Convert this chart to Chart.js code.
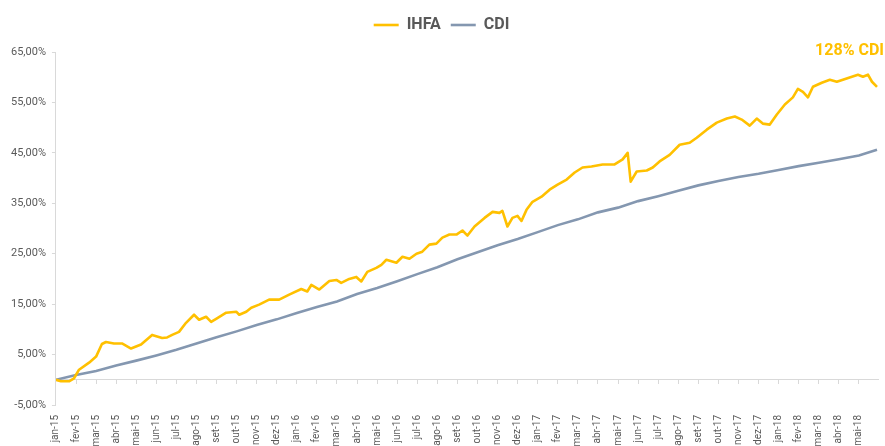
<!DOCTYPE html>
<html>
<head>
<meta charset="utf-8">
<script src="https://cdn.jsdelivr.net/npm/chart.js@4.4.0/dist/chart.umd.min.js"></script>
<style>
    html, body { margin: 0; padding: 0; background: #ffffff; }
    #wrap { width: 885px; height: 446px; }
</style>
</head>
<body>
<div id="wrap"><canvas id="chart"></canvas></div>
<script>
// Month labels (x axis), one per month from jan-15
const monthLabels = [
    'jan-15', 'fev-15', 'mar-15', 'abr-15', 'mai-15', 'jun-15', 'jul-15', 'ago-15', 'set-15', 'out-15', 'nov-15', 'dez-15',
    'jan-16', 'fev-16', 'mar-16', 'abr-16', 'mai-16', 'jun-16', 'jul-16', 'ago-16', 'set-16', 'out-16', 'nov-16', 'dez-16',
    'jan-17', 'fev-17', 'mar-17', 'abr-17', 'mai-17', 'jun-17', 'jul-17', 'ago-17', 'set-17', 'out-17', 'nov-17', 'dez-17',
    'jan-18', 'fev-18', 'mar-18', 'abr-18', 'mai-18'
];

// IHFA: months elapsed since jan-15, and accumulated return (%)
const ihfaMonth = [
    0.00, 0.25, 0.65, 0.90, 1.15, 1.65, 2.00, 2.29, 2.49, 2.89, 3.29, 3.74, 3.99, 4.24, 4.79,
    5.29, 5.54, 5.79, 6.13, 6.48, 6.88, 7.13, 7.48, 7.73, 7.98, 8.48, 8.98, 9.13, 9.48, 9.73,
    10.12, 10.62, 11.12, 11.62, 12.22, 12.52, 12.72, 13.12, 13.62, 13.97, 14.21, 14.61, 14.96, 15.21, 15.51,
    15.96, 16.21, 16.46, 16.96, 17.26, 17.61, 17.96, 18.25, 18.60, 18.95, 19.25, 19.60, 19.95, 20.25, 20.50,
    20.85, 21.35, 21.75, 22.09, 22.24, 22.49, 22.74, 22.99, 23.19, 23.44, 23.74, 24.19, 24.59, 24.99, 25.44,
    25.84, 26.23, 26.68, 27.23, 27.83, 28.23, 28.48, 28.63, 28.93, 29.43, 29.73, 30.07, 30.57, 31.07, 31.57,
    31.92, 32.42, 32.92, 33.42, 33.82, 34.16, 34.56, 34.91, 35.21, 35.56, 35.91, 36.31, 36.71, 36.96, 37.21,
    37.46, 37.71, 38.15, 38.55, 38.90, 39.20, 39.65, 39.95, 40.20, 40.45, 40.65, 40.90
];
const ihfaValue = [
    0.0, -0.3, -0.3, 0.3, 2.0, 3.4, 4.6, 7.1, 7.5, 7.2, 7.2, 6.2, 6.6, 7.0, 8.9,
    8.3, 8.4, 8.9, 9.5, 11.3, 12.9, 11.9, 12.5, 11.5, 12.1, 13.3, 13.5, 12.9, 13.5, 14.3,
    14.9, 15.9, 15.9, 16.9, 18.0, 17.5, 18.8, 17.9, 19.6, 19.8, 19.2, 20.0, 20.4, 19.5, 21.4,
    22.2, 22.8, 23.8, 23.2, 24.4, 24.0, 25.0, 25.4, 26.8, 27.0, 28.2, 28.8, 28.8, 29.6, 28.6,
    30.4, 32.1, 33.3, 33.1, 33.5, 30.4, 32.1, 32.5, 31.5, 33.7, 35.3, 36.3, 37.7, 38.7, 39.7,
    41.1, 42.1, 42.3, 42.7, 42.7, 43.7, 45.0, 39.3, 41.3, 41.5, 42.1, 43.3, 44.6, 46.6, 47.0,
    48.0, 49.6, 51.0, 51.8, 52.2, 51.6, 50.4, 51.8, 50.8, 50.6, 52.6, 54.6, 56.0, 57.7, 57.1,
    56.0, 58.1, 58.9, 59.5, 59.1, 59.5, 60.1, 60.5, 60.1, 60.5, 59.1, 58.1
];

// CDI: months elapsed since jan-15, and accumulated return (%)
const cdiMonth = [
    0, 1, 2, 3, 4, 5, 6, 7, 8, 9, 10, 11, 12, 13, 14, 15, 16, 17, 18, 19, 20,
    21, 22, 23, 24, 25, 26, 27, 28, 29, 30, 31, 32, 33, 34, 35, 36, 37, 38, 39, 40, 40.9
];
const cdiValue = [
    0.0, 0.93, 1.76, 2.83, 3.80, 4.83, 5.94, 7.19, 8.43, 9.60, 10.86, 11.98, 13.24, 14.42, 15.52,
    17.01, 18.19, 19.53, 20.95, 22.32, 23.89, 25.27, 26.68, 27.92, 29.28, 30.67, 31.81, 33.20, 34.14,
    35.43, 36.41, 37.48, 38.55, 39.42, 40.21, 40.85, 41.60, 42.37, 43.04, 43.75, 44.47, 45.60
];

const axisColor = '#d9d9d9';
const textColor = '#595959';
const ihfaColor = '#ffc000';
const cdiColor = '#8497b0';
const fontFamily = 'Roboto, "Liberation Sans", sans-serif';

function toPoints(xs, ys) {
    return xs.map((x, i) => ({ x: x, y: ys[i] }));
}

// leave some room between the legend and the plot
const legendGapPlugin = {
    id: 'legendGap',
    beforeLayout(chart) {
        const legend = chart.legend;
        if (!legend || legend._gapPatched) return;
        const fit = legend.fit;
        legend.fit = function() {
            fit.call(this);
            this.height += 9;
        };
        legend._gapPatched = true;
    }
};

// "128% CDI" note in the top right corner
const notePlugin = {
    id: 'note',
    afterDraw(chart) {
        const ctx = chart.ctx;
        const area = chart.chartArea;
        ctx.save();
        ctx.font = 'bold 16px ' + fontFamily;
        ctx.fillStyle = ihfaColor;
        ctx.textAlign = 'right';
        ctx.textBaseline = 'middle';
        ctx.fillText('128% CDI', area.right + 6, area.top - 1);
        ctx.restore();
    }
};

const ctx = document.getElementById('chart').getContext('2d');
new Chart(ctx, {
    type: 'line',
    data: {
        datasets: [
            {
                label: 'IHFA',
                data: toPoints(ihfaMonth, ihfaValue),
                borderColor: ihfaColor,
                backgroundColor: ihfaColor,
                borderWidth: 2.6,
                pointRadius: 0,
                tension: 0,
                borderJoinStyle: 'round',
                pointStyle: 'line'
            },
            {
                label: 'CDI',
                data: toPoints(cdiMonth, cdiValue),
                borderColor: cdiColor,
                backgroundColor: cdiColor,
                borderWidth: 2.6,
                pointRadius: 0,
                tension: 0,
                pointStyle: 'line'
            }
        ]
    },
    options: {
        responsive: true,
        maintainAspectRatio: false,
        animation: false,
        layout: {
            padding: { top: 7, right: 7, bottom: 0, left: 5 }
        },
        plugins: {
            legend: {
                position: 'top',
                labels: {
                    usePointStyle: true,
                    pointStyleWidth: 25,
                    color: textColor,
                    padding: 10,
                    font: { family: fontFamily, size: 16, weight: 'bold' }
                }
            },
            tooltip: { enabled: false }
        },
        scales: {
            x: {
                type: 'linear',
                min: 0,
                max: 40.95,
                border: { display: false },
                grid: { display: false },
                afterFit: function(scale) {
                    scale.height = 41;
                },
                ticks: {
                    stepSize: 1,
                    includeBounds: false,
                    autoSkip: false,
                    minRotation: 90,
                    maxRotation: 90,
                    padding: 2,
                    color: textColor,
                    font: { family: fontFamily, size: 10 },
                    callback: function(value) {
                        return monthLabels[value] || '';
                    }
                }
            },
            xZero: {
                type: 'linear',
                axis: 'x',
                position: { y: 0 },
                min: 0,
                max: 40.95,
                border: { color: axisColor, width: 1 },
                grid: { drawOnChartArea: false, drawTicks: true, tickLength: 4, color: axisColor },
                ticks: { stepSize: 1, includeBounds: false, display: false }
            },
            y: {
                min: -5,
                max: 65,
                border: { color: axisColor, width: 1 },
                grid: { drawOnChartArea: false, drawTicks: true, tickLength: 4, color: axisColor },
                ticks: {
                    stepSize: 10,
                    padding: 6,
                    color: textColor,
                    font: { family: fontFamily, size: 11 },
                    callback: function(value) {
                        return value.toFixed(2).replace('.', ',') + '%';
                    }
                }
            }
        }
    },
    plugins: [legendGapPlugin, notePlugin]
});
</script>
</body>
</html>
